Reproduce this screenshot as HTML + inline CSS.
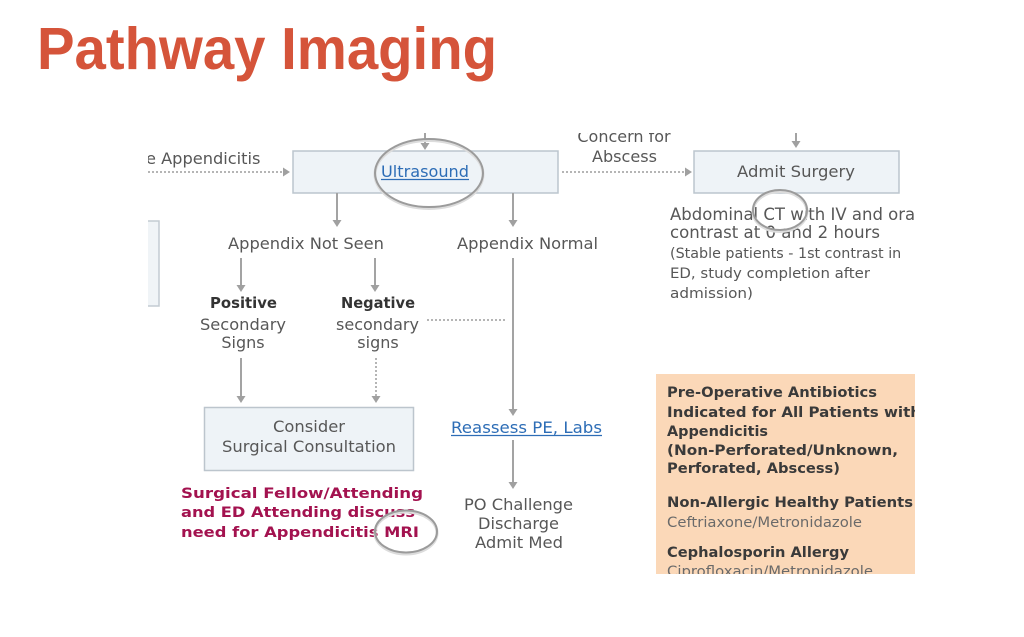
<!DOCTYPE html>
<html><head><meta charset="utf-8"><style>
html,body{margin:0;padding:0;background:#fff;width:1024px;height:637px;overflow:hidden}
svg{display:block}
.t{font-family:"DejaVu Sans","Liberation Sans",sans-serif;fill:#575757}
.b{font-weight:bold;fill:#333}
.l{fill:#2d6db6}
.m{font-weight:bold;fill:#a3124f;font-family:"DejaVu Sans","Liberation Sans",sans-serif}
.o{font-family:"DejaVu Sans","Liberation Sans",sans-serif;font-weight:bold;fill:#3a3a3a}
.on{font-family:"DejaVu Sans","Liberation Sans",sans-serif;fill:#6a6a6a}
</style></head><body>
<svg width="1024" height="637" viewBox="0 0 1024 637" xmlns="http://www.w3.org/2000/svg">
<defs>
<clipPath id="c"><rect x="148" y="133" width="767" height="441"/></clipPath>
</defs>
<text x="37" y="69" font-family="'Liberation Sans',Arial,sans-serif" font-weight="bold" font-size="59" fill="#d5543a" textLength="460" lengthAdjust="spacingAndGlyphs">Pathway Imaging</text>

<g clip-path="url(#c)">
<!-- left partial box -->
<rect x="130" y="221" width="29" height="85" fill="#f0f4f7" stroke="#c3cbd2" stroke-width="1.5"/>
<!-- boxes -->
<rect x="293" y="151" width="265" height="42" fill="#eef3f7" stroke="#bcc5cd" stroke-width="1.5"/>
<rect x="694" y="151" width="205" height="42" fill="#eef3f7" stroke="#bcc5cd" stroke-width="1.5"/>
<rect x="204.5" y="407.5" width="209" height="63" fill="#eef3f7" stroke="#bcc5cd" stroke-width="1.5"/>
<rect x="656" y="374" width="259" height="200" fill="#fbd8b8"/>

<!-- solid lines -->
<g stroke="#a3a3a3" stroke-width="2" fill="none">
<line x1="425" y1="128" x2="425" y2="144"/>
<line x1="796" y1="128" x2="796" y2="142"/>
<line x1="337" y1="193" x2="337" y2="221"/>
<line x1="513" y1="193" x2="513" y2="221"/>
<line x1="241" y1="258" x2="241" y2="286"/>
<line x1="375" y1="258" x2="375" y2="286"/>
<line x1="241" y1="358" x2="241" y2="397"/>
<line x1="513" y1="258" x2="513" y2="410"/>
<line x1="513" y1="440" x2="513" y2="483"/>
</g>
<!-- dotted lines -->
<g stroke="#b5b5b5" stroke-width="2" fill="none" stroke-dasharray="2 2">
<line x1="376" y1="358" x2="376" y2="397"/>
<line x1="427" y1="320" x2="507" y2="320"/>
<line x1="140" y1="172" x2="284" y2="172"/>
<line x1="562" y1="172" x2="686" y2="172"/>
</g>
<!-- arrowheads -->
<g fill="#a0a0a0">
<path d="M420.5 143 L429.5 143 L425 150 Z"/>
<path d="M791.5 141 L800.5 141 L796 148 Z"/>
<path d="M332.5 220 L341.5 220 L337 227 Z"/>
<path d="M508.5 220 L517.5 220 L513 227 Z"/>
<path d="M236.5 285 L245.5 285 L241 292 Z"/>
<path d="M370.5 285 L379.5 285 L375 292 Z"/>
<path d="M236.5 396 L245.5 396 L241 403 Z"/>
<path d="M371.5 396 L380.5 396 L376 403 Z"/>
<path d="M508.5 409 L517.5 409 L513 416 Z"/>
<path d="M508.5 482 L517.5 482 L513 489 Z"/>
<path d="M283 167.5 L283 176.5 L290 172 Z"/>
<path d="M685 167.5 L685 176.5 L692 172 Z"/>
</g>

<!-- texts -->
<text class="t" x="146" y="164" font-size="16.2">e Appendicitis</text>
<text class="t l" x="381" y="177" font-size="16" textLength="88" lengthAdjust="spacingAndGlyphs">Ultrasound</text>
<line x1="381" y1="179.5" x2="469" y2="179.5" stroke="#2d6db6" stroke-width="1.2"/>
<text class="t" x="624" y="142" font-size="16" text-anchor="middle">Concern for</text>
<text class="t" x="624.5" y="162" font-size="16" text-anchor="middle" textLength="65" lengthAdjust="spacingAndGlyphs">Abscess</text>
<text class="t" x="737" y="177" font-size="16" textLength="118" lengthAdjust="spacingAndGlyphs">Admit Surgery</text>

<text class="t" x="670" y="220" font-size="16.5">Abdominal CT with IV and oral</text>
<text class="t" x="670" y="238" font-size="16.5" textLength="210" lengthAdjust="spacingAndGlyphs">contrast at 0 and 2 hours</text>
<text class="t" x="670" y="258" font-size="14.3">(Stable patients - 1st contrast in</text>
<text class="t" x="670" y="278" font-size="14.3" textLength="200" lengthAdjust="spacingAndGlyphs">ED, study completion after</text>
<text class="t" x="670" y="298" font-size="14.3" textLength="83" lengthAdjust="spacingAndGlyphs">admission)</text>

<text class="t" x="228" y="249" font-size="16.2" textLength="156" lengthAdjust="spacingAndGlyphs">Appendix Not Seen</text>
<text class="t" x="457" y="249" font-size="16.2" textLength="141" lengthAdjust="spacingAndGlyphs">Appendix Normal</text>

<text class="t b" x="243.5" y="308" font-size="15" text-anchor="middle" textLength="67" lengthAdjust="spacingAndGlyphs">Positive</text>
<text class="t" x="243" y="330" font-size="16" text-anchor="middle" textLength="86" lengthAdjust="spacingAndGlyphs">Secondary</text>
<text class="t" x="243" y="348" font-size="16" text-anchor="middle">Signs</text>
<text class="t b" x="378" y="308" font-size="15" text-anchor="middle" textLength="74" lengthAdjust="spacingAndGlyphs">Negative</text>
<text class="t" x="377.5" y="330" font-size="16" text-anchor="middle" textLength="83" lengthAdjust="spacingAndGlyphs">secondary</text>
<text class="t" x="378" y="348" font-size="16" text-anchor="middle">signs</text>

<text class="t" x="309" y="432" font-size="16" text-anchor="middle" textLength="72" lengthAdjust="spacingAndGlyphs">Consider</text>
<text class="t" x="309" y="452" font-size="16" text-anchor="middle" textLength="174" lengthAdjust="spacingAndGlyphs">Surgical Consultation</text>

<text class="t l" x="451" y="433" font-size="16" textLength="151" lengthAdjust="spacingAndGlyphs">Reassess PE, Labs</text>
<line x1="451" y1="435.5" x2="602" y2="435.5" stroke="#2d6db6" stroke-width="1.2"/>

<text class="t" x="518.5" y="510" font-size="16" text-anchor="middle" textLength="109" lengthAdjust="spacingAndGlyphs">PO Challenge</text>
<text class="t" x="518.5" y="529" font-size="16" text-anchor="middle" textLength="81" lengthAdjust="spacingAndGlyphs">Discharge</text>
<text class="t" x="519" y="548" font-size="16" text-anchor="middle" textLength="88" lengthAdjust="spacingAndGlyphs">Admit Med</text>

<text class="m" x="181" y="498" font-size="14.5" textLength="242" lengthAdjust="spacingAndGlyphs">Surgical Fellow/Attending</text>
<text class="m" x="181" y="517" font-size="14.5" textLength="234" lengthAdjust="spacingAndGlyphs">and ED Attending discuss</text>
<text class="m" x="181" y="537" font-size="14.5" textLength="238" lengthAdjust="spacingAndGlyphs">need for Appendicitis MRI</text>

<text class="o" x="667" y="397" font-size="14.3" textLength="210" lengthAdjust="spacingAndGlyphs">Pre-Operative Antibiotics</text>
<text class="o" x="667" y="417" font-size="14.3" textLength="254" lengthAdjust="spacingAndGlyphs">Indicated for All Patients with</text>
<text class="o" x="667" y="436" font-size="14.3" textLength="101" lengthAdjust="spacingAndGlyphs">Appendicitis</text>
<text class="o" x="667" y="455" font-size="14.3" textLength="231" lengthAdjust="spacingAndGlyphs">(Non-Perforated/Unknown,</text>
<text class="o" x="667" y="473" font-size="14.3" textLength="173" lengthAdjust="spacingAndGlyphs">Perforated, Abscess)</text>
<text class="o" x="667" y="507" font-size="14.3" textLength="246" lengthAdjust="spacingAndGlyphs">Non-Allergic Healthy Patients</text>
<text class="on" x="667" y="527" font-size="14.3" textLength="195" lengthAdjust="spacingAndGlyphs">Ceftriaxone/Metronidazole</text>
<text class="o" x="667" y="557" font-size="14.3" textLength="182" lengthAdjust="spacingAndGlyphs">Cephalosporin Allergy</text>
<text class="on" x="667" y="576" font-size="14.3" textLength="206" lengthAdjust="spacingAndGlyphs">Ciprofloxacin/Metronidazole</text>
</g>

<!-- highlight ellipses -->
<g fill="none">
<ellipse cx="429" cy="174.5" rx="54" ry="34" stroke="#dcdcdc" stroke-width="3"/>
<ellipse cx="429" cy="173" rx="54" ry="34" stroke="#9b9b9b" stroke-width="2"/>
<ellipse cx="780" cy="211.5" rx="27" ry="20" stroke="#dcdcdc" stroke-width="3"/>
<ellipse cx="780" cy="210" rx="27" ry="20" stroke="#9b9b9b" stroke-width="2"/>
<ellipse cx="406" cy="533" rx="31" ry="21" stroke="#dcdcdc" stroke-width="3"/>
<ellipse cx="406" cy="531.5" rx="31" ry="21" stroke="#9b9b9b" stroke-width="2"/>
</g>
</svg>
</body></html>
